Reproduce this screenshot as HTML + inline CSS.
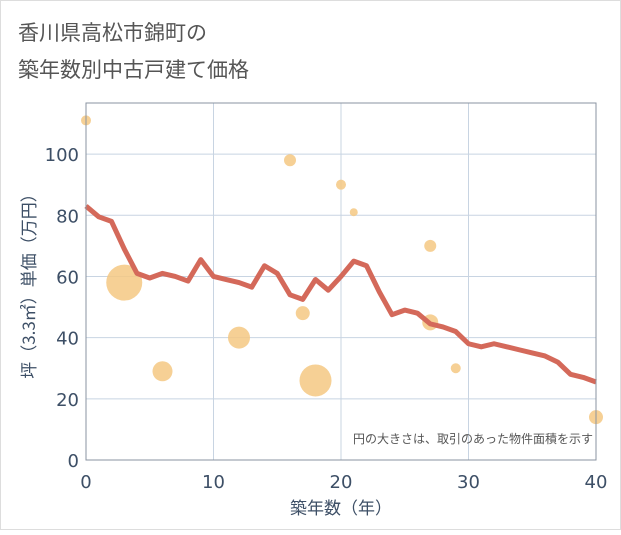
<!DOCTYPE html>
<html><head><meta charset="utf-8"><style>
body{margin:0;background:#fff;}
svg text{font-family:"DejaVu Sans","Noto Sans CJK JP",sans-serif;}
</style></head><body>
<svg width="621" height="530" viewBox="0 0 621 530" xmlns="http://www.w3.org/2000/svg">
<rect x="0.5" y="0.5" width="620" height="529" fill="#fff" stroke="#ddd"/>
<text x="18" y="40" font-size="21" fill="#555" style="font-family:'Noto Sans CJK JP',sans-serif">香川県高松市錦町の</text>
<text x="18" y="77" font-size="21" fill="#555" style="font-family:'Noto Sans CJK JP',sans-serif">築年数別中古戸建て価格</text>
<g id="grid"></g>
<g id="bubbles"></g>
<path id="line" fill="none" stroke="#d4695a" stroke-width="5" stroke-linejoin="round"/>
<rect x="86" y="103" width="510" height="357" fill="none" stroke="#8a93a0" stroke-width="1"/>
<g id="ticks"></g>
<text x="593" y="443" font-size="12" fill="#555" text-anchor="end" style="font-family:'Noto Sans CJK JP',sans-serif">円の大きさは、取引のあった物件面積を示す</text>
<text x="341" y="514" font-size="17" fill="#3d4f66" text-anchor="middle" style="font-family:'Noto Sans CJK JP',sans-serif">築年数（年）</text>
<text transform="translate(35,282) rotate(-90)" font-size="17" fill="#3d4f66" text-anchor="middle" style="font-family:'Noto Sans CJK JP',sans-serif">坪（3.3㎡）単価（万円）</text>
</svg>
<script>
const xTicks=[0,10,20,30,40];
const yTicks=[0,20,40,60,80,100];
const lineYears=[0,1,2,3,4,5,6,7,8,9,10,11,12,13,14,15,16,17,18,19,20,21,22,23,24,25,26,27,28,29,30,31,32,33,34,35,36,37,38,39,40];
const linePrices=[83,79.5,78,69,61,59.5,61,60,58.5,65.5,60,59,58,56.5,63.5,61,54,52.5,59,55.5,60,65,63.5,55,47.5,49,48,44.5,43.5,42,38,37,38,37,36,35,34,32,28,27,25.5];
const bubbleYears=[0,3,6,12,16,17,18,20,21,27,27,29,40];
const bubblePrices=[111,58,29,40,98,48,26,90,81,70,45,30,14];
const bubbleSizes=[5,18,10,11,6,7,16,5,4,6,8,5,7];
const X0=86,X1=596,Y0=460,Ymax=116.7,Ytop=103;
const sx=v=>X0+(v/40)*(X1-X0);
const sy=v=>Y0-(v/Ymax)*(Y0-Ytop);
const NS="http://www.w3.org/2000/svg";
const grid=document.getElementById('grid'),ticks=document.getElementById('ticks');
xTicks.forEach(t=>{
 const l=document.createElementNS(NS,'line');
 
 
 l.setAttribute('x1',sx(t));l.setAttribute('x2',sx(t));l.setAttribute('y1',Ytop);l.setAttribute('y2',Y0);
 l.setAttribute('stroke','#c8d4e2');grid.appendChild(l);
 const tx=document.createElementNS(NS,'text');
 
 
 tx.setAttribute('x',sx(t));tx.setAttribute('y',488);tx.setAttribute('text-anchor','middle');
 tx.setAttribute('font-size','18');tx.setAttribute('fill','#3d4f66');tx.textContent=t;ticks.appendChild(tx);
});
yTicks.forEach(t=>{
 const l=document.createElementNS(NS,'line');
 
 
 l.setAttribute('x1',X0);l.setAttribute('x2',X1);l.setAttribute('y1',sy(t));l.setAttribute('y2',sy(t));
 l.setAttribute('stroke','#c8d4e2');grid.appendChild(l);
 const tx=document.createElementNS(NS,'text');
 
 
 tx.setAttribute('x',79);tx.setAttribute('y',sy(t)+7);tx.setAttribute('text-anchor','end');
 tx.setAttribute('font-size','18');tx.setAttribute('fill','#3d4f66');tx.textContent=t;ticks.appendChild(tx);
});
const bg=document.getElementById('bubbles');
bubbleYears.forEach((y,i)=>{
 const c=document.createElementNS(NS,'circle');
 
 
 c.setAttribute('cx',sx(y));c.setAttribute('cy',sy(bubblePrices[i]));c.setAttribute('r',bubbleSizes[i]);
 c.setAttribute('fill','#f5c882');c.setAttribute('fill-opacity','0.85');bg.appendChild(c);
});
document.getElementById('line').setAttribute('d',lineYears.map((y,i)=>(i?'L':'M')+sx(y)+','+sy(linePrices[i])).join(''));
</script>
</body></html>
